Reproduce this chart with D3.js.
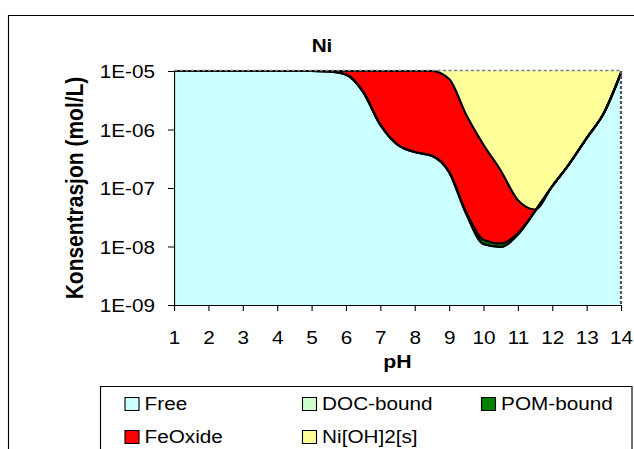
<!DOCTYPE html>
<html>
<head>
<meta charset="utf-8">
<script src="https://cdn.jsdelivr.net/npm/d3@7"></script>
<style>
  html, body { margin: 0; padding: 0; background: #fff; overflow: hidden; }
  svg { display: block; font-family: "Liberation Sans", Arial, sans-serif; }
</style>
</head>
<body>
<svg id="chart" width="634" height="449"></svg>
<script>
// Nickel speciation vs pH (mol/L), stacked; total Ni = 1E-05 mol/L
const pH = [1, 1.5, 2, 2.5, 3, 3.5, 4, 4.5, 5, 5.5, 6, 6.5, 7, 7.5, 8, 8.5, 9, 9.5,
            10, 10.5, 11, 11.5, 12, 12.5, 13, 13.5, 14];

const free = [1e-5, 1e-5, 1e-5, 1e-5, 1e-5, 1e-5, 1e-5, 1e-5, 1e-5, 9.8e-6, 8.7e-6, 4.4e-6,
              1.2e-6, 5.5e-7, 4.1e-7, 3.55e-7, 1.87e-7, 3.6e-8, 1.1e-8, 9.8e-9, 1.6e-8,
              4.0e-8, 1.07e-7, 2.6e-7, 7.1e-7, 1.9e-6, 9.3e-6];

const docBound = [0, 0, 0, 0, 0, 0, 0, 0, 0, 0, 0, 1e-10, 1e-10, 1e-10, 1e-10, 1e-10, 1e-10,
                  5e-11, 5e-11, 5e-11, 5e-11, 0, 0, 0, 0, 0, 0];

const pomBound = [0, 0, 0, 0, 0, 0, 0, 0, 0, 0, 0, 5e-9, 5e-9, 4e-9, 4e-9, 4e-9, 3e-9,
                  2.5e-9, 2.0e-9, 1.4e-9, 0.8e-9, 0.3e-9, 0, 0, 0, 0, 0];

const feOxide = [0, 0, 0, 0, 0, 0, 0, 0, 0, 2.0e-7, 1.3e-6, 5.595e-6, 8.795e-6, 9.446e-6,
                 9.586e-6, 9.641e-6, 7.11e-6, 1.74e-6, 5.37e-7, 1.888e-7, 4.52e-8, 2.7e-9,
                 0, 0, 0, 0, 0];

const niOH2s = [0, 0, 0, 0, 0, 0, 0, 0, 0, 0, 0, 0, 0, 0, 0, 0, 2.7e-6, 8.2215e-6, 9.45e-6,
                9.8e-6, 9.938e-6, 9.957e-6, 9.893e-6, 9.74e-6, 9.29e-6, 8.1e-6, 7.0e-7];

const seriesNames = ["Free", "DOC-bound", "POM-bound", "FeOxide", "Ni[OH]2[s]"];
const seriesValues = [free, docBound, pomBound, feOxide, niOH2s];
const seriesColors = ["#CCFFFF", "#CCFFCC", "#008000", "#FF0000", "#FFFF99"];

const xTicks = [1, 2, 3, 4, 5, 6, 7, 8, 9, 10, 11, 12, 13, 14];
const yTickValues = [1e-9, 1e-8, 1e-7, 1e-6, 1e-5];
const yTickLabels = ["1E-09", "1E-08", "1E-07", "1E-06", "1E-05"];

// ---- layout ----
const SX = 1.12;                       // horizontal stretch of the whole drawing
const plot = { left: 174 / SX, right: 621 / SX, top: 71, bottom: 305 };
const fontSize = 18.5;

const svg = d3.select("#chart");
const g = svg.append("g").attr("transform", `scale(${SX},1)`);

// outer chart frame
g.append("rect")
  .attr("x", 8.5 / SX).attr("y", 15.5)
  .attr("width", 700).attr("height", 500)
  .attr("fill", "none").attr("stroke", "#000").attr("stroke-width", 1);

const x = d3.scaleLinear().domain([1, 14]).range([plot.left, plot.right]);
const y = d3.scaleLog().domain([1e-9, 1e-5]).range([plot.bottom, plot.top]).clamp(true);

const rows = pH.map((p, i) => {
  const r = { pH: p };
  seriesNames.forEach((k, j) => { r[k] = seriesValues[j][i]; });
  return r;
});
const stacked = d3.stack().keys(seriesNames)(rows);

g.append("clipPath").attr("id", "plotClip")
  .append("rect")
  .attr("x", plot.left).attr("y", plot.top)
  .attr("width", plot.right - plot.left).attr("height", plot.bottom - plot.top);

const floor = v => Math.max(v, 1e-9);
const area = d3.area()
  .x(d => x(d.data.pH))
  .y0(d => y(floor(d[0])))
  .y1(d => y(floor(d[1])))
  .curve(d3.curveMonotoneX);

const line = d3.line()
  .x(d => x(d.data.pH))
  .y(d => y(floor(d[1])))
  .curve(d3.curveMonotoneX);

const areas = g.append("g").attr("clip-path", "url(#plotClip)");
areas.selectAll("path.layer")
  .data(stacked)
  .join("path")
  .attr("class", "layer")
  .attr("fill", (d, i) => seriesColors[i])
  .attr("d", area);

// black outlines on the upper edge of each layer (the total needs none)
g.append("g").selectAll("path.edge")
  .data(stacked.slice(0, 4))
  .join("path")
  .attr("class", "edge")
  .attr("fill", "none")
  .attr("stroke", "#000")
  .attr("stroke-width", 2)
  .attr("stroke-linejoin", "round")
  .attr("d", line);

// dashed plot-area border on top and right
g.append("path")
  .attr("d", `M${plot.left},${plot.top - 0.5}H${plot.right}`)
  .attr("stroke", "#808080").attr("stroke-width", 1.5)
  .attr("stroke-dasharray", "3 2").attr("fill", "none");
g.append("path")
  .attr("d", `M${plot.right},${plot.top}V${plot.bottom}`)
  .attr("stroke", "#555").attr("stroke-width", 2)
  .attr("stroke-dasharray", "3 2").attr("fill", "none");

// axes
const yAxis = d3.axisLeft(y)
  .tickValues(yTickValues)
  .tickFormat((d, i) => yTickLabels[i])
  .tickSize(6 / SX).tickSizeOuter(0).tickPadding(11.6);
const yg = g.append("g").attr("transform", `translate(${plot.left},0)`).call(yAxis);
yg.selectAll("text")
  .attr("font-size", fontSize).attr("font-family", "Liberation Sans, Arial, sans-serif")
  .attr("fill", "#000").attr("dy", 6.5);
yg.selectAll("line, path").attr("stroke", "#000");

const xAxis = d3.axisBottom(x)
  .tickValues(xTicks).tickFormat(d => String(d))
  .tickSize(6).tickSizeOuter(0);
const xg = g.append("g").attr("transform", `translate(0,${plot.bottom})`).call(xAxis);
xg.selectAll("text")
  .attr("font-size", fontSize).attr("font-family", "Liberation Sans, Arial, sans-serif")
  .attr("fill", "#000").attr("y", 39).attr("dy", null);
xg.selectAll("line, path").attr("stroke", "#000");

// titles
g.append("text")
  .attr("x", 322 / SX).attr("y", 52)
  .attr("text-anchor", "middle").attr("font-weight", "bold").attr("font-size", 18.5)
  .text("Ni");

g.append("text")
  .attr("x", (plot.left + plot.right) / 2).attr("y", 368)
  .attr("text-anchor", "middle").attr("font-weight", "bold").attr("font-size", 19)
  .text("pH");

g.append("text")
  .attr("transform", `translate(${83 / SX},188) rotate(-90)`)
  .attr("text-anchor", "middle").attr("font-weight", "bold").attr("font-size", 21)
  .text("Konsentrasjon (mol/L)");

// legend
const legendBox = { x: 100.5 / SX, y: 386.5, w: (632 - 100.5) / SX, h: 100 };
g.append("rect")
  .attr("x", legendBox.x).attr("y", legendBox.y)
  .attr("width", legendBox.w).attr("height", legendBox.h)
  .attr("fill", "#fff").attr("stroke", "#000").attr("stroke-width", 1);

const colX = [125 / SX, 302.5 / SX, 481.5 / SX];
const rowY = [397.5, 430.5];
const legend = g.append("g").selectAll("g")
  .data(seriesNames)
  .join("g")
  .attr("transform", (d, i) => `translate(${colX[i % 3]},${rowY[Math.floor(i / 3)]})`);
legend.append("rect")
  .attr("width", 12.5).attr("height", 13)
  .attr("fill", (d, i) => seriesColors[i])
  .attr("stroke", "#000").attr("stroke-width", 1);
legend.append("text")
  .attr("x", 17.5).attr("y", 12.5)
  .attr("font-size", fontSize)
  .text(d => d);
</script>
</body>
</html>
